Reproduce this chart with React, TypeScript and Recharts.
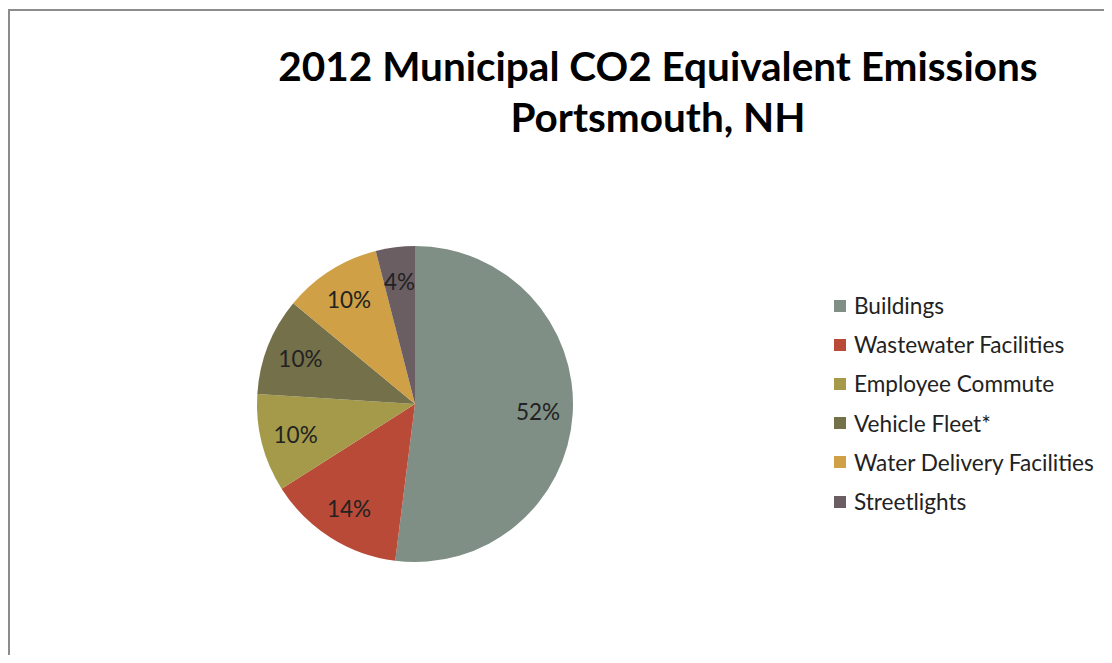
import { PieChart, Pie, Cell, Legend } from "recharts";

const categories = [
  "Buildings",
  "Wastewater Facilities",
  "Employee Commute",
  "Vehicle Fleet*",
  "Water Delivery Facilities",
  "Streetlights",
];
const shares = [52, 14, 10, 10, 10, 4];
const COLORS = ["#7f8f85", "#b94a37", "#a49a4a", "#74704a", "#cfa045", "#6b5e63"];

const data = categories.map((name, i) => ({ name, value: shares[i] }));

const FONT = "Lato, 'Open Sans', sans-serif";
const RAD = Math.PI / 180;

const renderLabel = (props: any) => {
  const { cx, cy, midAngle, outerRadius, value } = props;
  const r = outerRadius * 0.78;
  const x = cx + r * Math.cos(-midAngle * RAD);
  const y = cy + r * Math.sin(-midAngle * RAD);
  return (
    <text
      x={x}
      y={y}
      fill="#222"
      fontSize={22.5}
      fontFamily={FONT}
      textAnchor="middle"
      dominantBaseline="central"
    >
      {value}%
    </text>
  );
};

const LegendBox = () => (
  <div style={{ fontFamily: FONT, fontSize: 22.6, color: "#222", whiteSpace: "nowrap" }}>
    {data.map((d, i) => (
      <div key={d.name} style={{ display: "flex", alignItems: "center", height: 39.2 }}>
        <span
          style={{
            display: "inline-block",
            width: 12,
            height: 12,
            background: COLORS[i],
            marginRight: 8,
          }}
        />
        {d.name}
      </div>
    ))}
  </div>
);

const App = () => {
  return (
    <div style={{ position: "relative", width: 1112, height: 663, margin: -8, overflow: "hidden", background: "#fff" }}>
      <div
        style={{
          position: "absolute",
          left: 8,
          top: 9,
          width: 1104,
          height: 654,
          borderLeft: "2px solid #8c8c8c",
          borderTop: "2px solid #8c8c8c",
          boxSizing: "border-box",
        }}
      />
      <div
        style={{
          position: "absolute",
          left: 158,
          top: 40,
          width: 1000,
          textAlign: "center",
          fontFamily: FONT,
          fontWeight: 700,
          fontSize: 40.5,
          lineHeight: "51px",
          color: "#000",
          whiteSpace: "nowrap",
        }}
      >
        2012 Municipal CO2 Equivalent Emissions
        <br />
        Portsmouth, NH
      </div>
      <div style={{ position: "absolute", left: 0, top: 0 }}>
        <PieChart width={1112} height={663}>
          <Pie
            data={data}
            dataKey="value"
            nameKey="name"
            cx={410}
            cy={399}
            outerRadius={158}
            startAngle={90}
            endAngle={-270}
            stroke="none"
            label={renderLabel}
            labelLine={false}
            isAnimationActive={false}
          >
            {data.map((entry, index) => (
              <Cell key={`cell-${index}`} fill={COLORS[index]} />
            ))}
          </Pie>
          <Legend
            layout="vertical"
            content={<LegendBox />}
            wrapperStyle={{ left: 834, top: 286, width: 278 }}
          />
        </PieChart>
      </div>
    </div>
  );
};

export default App;
